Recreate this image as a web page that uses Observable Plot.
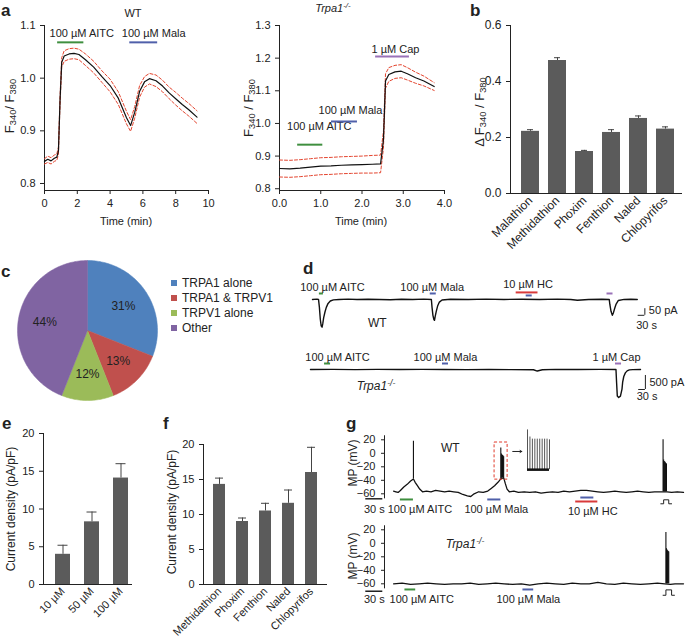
<!DOCTYPE html>
<html><head><meta charset="utf-8">
<script src="https://cdn.jsdelivr.net/npm/d3@7"></script>
<script src="https://cdn.jsdelivr.net/npm/@observablehq/plot@0.6"></script>
<style>
body{margin:0;background:#fff;}
#fig{position:relative;width:685px;height:641px;background:#fff;overflow:hidden;font-family:"Liberation Sans",Arial,Helvetica,sans-serif;color:#222;}
.lbl{position:absolute;white-space:nowrap;line-height:1;}
.lbl sub{font-size:72%;vertical-align:-0.25em;line-height:0;}
.lbl sup{font-size:72%;vertical-align:0.45em;line-height:0;}
.sq{position:absolute;width:6px;height:6px;}
</style></head><body><div id="fig"></div>
<script>
// ---------------- DATA ----------------
// Panel a (WT): mean F340/F380 and SEM over time (min)
const wtTime = [0,0.2,0.4,0.6,0.75,0.85,0.95,1.05,1.2,1.5,1.8,2.1,2.5,3.0,3.5,4.0,4.5,5.0,5.25,5.5,5.8,6.1,6.4,6.8,7.2,7.6,8.0,8.4,8.8,9.3];
const wtMean = [0.842,0.846,0.843,0.848,0.850,0.862,0.960,1.030,1.042,1.046,1.047,1.045,1.035,1.021,1.003,0.986,0.962,0.925,0.910,0.935,0.975,0.993,0.999,0.995,0.985,0.972,0.961,0.950,0.940,0.926];
const wtSem  = [0.005,0.006,0.006,0.006,0.006,0.007,0.008,0.009,0.010,0.010,0.010,0.010,0.011,0.011,0.011,0.012,0.012,0.012,0.011,0.011,0.011,0.010,0.010,0.011,0.011,0.011,0.012,0.012,0.012,0.012];
const wtStimLabel = ["100 µM AITC","100 µM Mala"];
const wtStimDrug  = ["AITC","Mala"];
const wtStimStart = [0.8, 5.2];
const wtStimEnd   = [2.4, 6.9];
// Panel a (Trpa1-/-)
const koTime = [0,0.25,0.5,0.75,1.0,1.25,1.5,1.75,2.0,2.25,2.45,2.52,2.57,2.65,2.8,2.95,3.1,3.3,3.5,3.75];
const koMean = [0.862,0.861,0.863,0.866,0.869,0.870,0.872,0.873,0.874,0.875,0.876,0.950,1.130,1.150,1.158,1.160,1.152,1.140,1.130,1.113];
const koSem  = [0.026,0.026,0.026,0.026,0.026,0.026,0.026,0.026,0.026,0.027,0.027,0.026,0.022,0.021,0.020,0.020,0.019,0.017,0.015,0.012];
const koStimLabel = ["100 µM AITC","100 µM Mala","1 µM Cap"];
const koStimDrug  = ["AITC","Mala","Cap"];
const koStimStart = [0.44, 1.26, 2.33];
const koStimEnd   = [1.05, 1.89, 3.15];
// Panel b
const bCats = ["Malathion","Methidathion","Phoxim","Fenthion","Naled","Chlopyrifos"];
const bVals = [0.222,0.475,0.150,0.218,0.268,0.230];
const bErrs = [0.006,0.010,0.004,0.010,0.009,0.008];
// Panel c
const pieLabels = ["TRPA1 alone","TRPA1 & TRPV1","TRPV1 alone","Other"];
const pieValues = [31,13,12,44];
// Panel d (WT current trace: time s, current pA)
const dWtT = [0,20,27,31,35,39,43,46,50,56,62,70,80,94,120,160,200,250,300,350,400,450,500,534,537,541,545,548,551,556,562,570,582,620,700,780,860,940,1020,1100,1160,1190,1240,1300,1333,1336,1341,1347,1352,1358,1364,1374,1400,1430,1459];
const dWtI = [0,2,0,-60,-150,-200,-210,-185,-140,-95,-60,-30,-12,-3,0,2,-1,1,0,-2,1,0,2,0,-60,-120,-150,-158,-130,-90,-50,-20,-4,1,-1,2,0,1,-1,2,-1,-6,0,1,0,-40,-90,-120,-100,-65,-35,-8,0,1,0];
const dWtStimLabel = ["100 µM AITC","100 µM Mala","10 µM HC",""];
const dWtStimDrug  = ["AITC","Mala","HC","Cap"];
const dWtStimStart = [31,529,915,1323];
const dWtStimEnd   = [49,556,1013,1350];
const dHcMalaStart = 960, dHcMalaEnd = 987;
// Panel d (Trpa1-/-)
const dKoT = [0,100,200,300,400,500,600,700,800,900,1000,1017,1040,1100,1200,1300,1370,1373,1376,1382,1390,1397,1400,1405,1412,1420,1430,1445,1480];
const dKoI = [0,5,-3,4,-2,3,0,-5,2,-4,-10,-55,-10,3,-2,4,0,-500,-950,-1000,-950,-700,-450,-250,-120,-50,-15,-3,0];
const dKoStimLabel = ["100 µM AITC","100 µM Mala","1 µM Cap"];
const dKoStimDrug  = ["AITC","Mala","Cap"];
const dKoStimStart = [63,592,1368];
const dKoStimEnd   = [90,619,1395];
const dScaleWt = {sec:30, pA:50};
const dScaleKo = {sec:30, pA:500};
// Panel e
const eCats = ["10 µM","50 µM","100 µM"];
const eVals = [4.0,8.3,14.1];
const eErrs = [1.2,1.3,1.9];
// Panel f
const fCats = ["Methidathion","Phoxim","Fenthion","Naled","Chlopyrifos"];
const fVals = [14.3,9.0,10.5,11.6,16.0];
const fErrs = [0.9,0.5,1.1,1.9,3.6];
// Panel g (WT membrane potential: time s, mV)
const g1T = [0,4,8,12,18,24,30,35,38,42,46,51,58,66,74,82,90,98,106,114,122,130,136,142,150,158,166,172,178,184,189,194,197,200,204,212,220,230,240,250,260,270,280,290,300,310,320,330,340,350,360,370,380,390,400,410,420,430,440,450,460,468,474,482,490,500,511];
const g1V = [-56,-57,-58,-55,-50,-46,-41,-38,-43,-48,-53,-57,-56,-57,-55,-56,-57,-56,-57,-58,-61,-63,-64,-60,-57,-58,-56,-52,-48,-43,-38,-36,-45,-53,-57,-56,-58,-57,-58,-57,-59,-58,-57,-58,-56,-57,-56,-55,-55,-56,-57,-58,-57,-56,-57,-58,-57,-56,-57,-58,-57,-57,-57,-57,-58,-57,-58];
const g1SpikeT    = [35,189,190,191,192,193,194,475,476,477,478,479,480,481];
const g1SpikeBase = [-38,-38,-37,-37,-36,-36,-36,-57,-57,-57,-57,-57,-57,-57];
const g1SpikePeak = [18,8,-1,-3,-3,-4,-5,20,-10,-12,-13,-14,-15,-16];
const g1StimLabel = ["100 µM AITC","100 µM Mala","10 µM HC"];
const g1StimDrug  = ["AITC","Mala","HC"];
const g1StimStart = [12,166,321];
const g1StimEnd   = [35,189,360];
const gHcMalaStart = 330, gHcMalaEnd = 353;
const g1Pulse = [476,485];
const insetT = [0,1,2,3,4,5,6,7,8,9];
const insetPeak = [18,8,5,5,5,5,5,5,5,4];
const insetBase = -38;
// Panel g (Trpa1-/-)
const g2T = [0,15,30,45,60,75,90,105,120,135,150,165,180,195,210,225,240,255,270,285,300,315,330,345,360,375,390,405,420,435,450,465,478,488,496,511];
const g2V = [-60,-59,-61,-60,-59,-60,-61,-60,-60,-59,-61,-60,-59,-60,-61,-60,-62,-60,-59,-60,-61,-59,-60,-60,-58,-60,-61,-59,-60,-61,-60,-59,-60,-61,-60,-60];
const g2SpikeT    = [480,481,482,483,484,485];
const g2SpikeBase = [-60,-60,-60,-60,-60,-60];
const g2SpikePeak = [16,-8,-10,-11,-12,-13];
const g2StimLabel = ["100 µM AITC","100 µM Mala"];
const g2StimDrug  = ["AITC","Mala"];
const g2StimStart = [20,228];
const g2StimEnd   = [39,247];
const g2Pulse = [480,490];
const gScaleSec = 30;

// ---------------- STYLE ----------------
const FONT = '"Liberation Sans", Arial, Helvetica, sans-serif';
const DRUG_COLOR = {AITC:"#3f8f3f", Mala:"#5060aa", HC:"#d83a3a", Cap:"#9a72b8"};
const PIE_COLORS = ["#4f81bd","#c0504d","#9bbb59","#8064a2"];
const BAND_RED = "#e4452f";
const BAR_GRAY = "#5b5b5b";
const baseStyle = {background:"transparent", overflow:"visible", fontFamily:FONT, fontSize:"11px", color:"#222", maxWidth:"none"};
const fig = document.getElementById("fig");
function put(node, left, top){
  const d = document.createElement("div");
  d.style.position="absolute"; d.style.left=left+"px"; d.style.top=top+"px";
  d.appendChild(node); fig.appendChild(d);
}
function label(html, x, y, o={}){
  const d = document.createElement("div"); d.className="lbl"; d.innerHTML=html;
  d.style.fontSize=(o.size??11)+"px";
  if(o.bold) d.style.fontWeight="bold";
  if(o.italic) d.style.fontStyle="italic";
  d.style.left=x+"px"; d.style.top=y+"px";
  const tx = o.anchor==="start"?"0":o.anchor==="end"?"-100%":"-50%";
  d.style.transform=`translate(${tx},-50%)`+(o.rotate?` rotate(${o.rotate}deg)`:"");
  fig.appendChild(d);
}
function stimMarks(labels, drugs, starts, ends, yBar, yText, dxs, fs){
  const m=[];
  labels.forEach((lab,i)=>{
    m.push(Plot.ruleY([yBar],{x1:starts[i], x2:ends[i], stroke:DRUG_COLOR[drugs[i]], strokeWidth:2}));
    if(lab) m.push(Plot.text([lab],{x:(starts[i]+ends[i])/2, y:yText, text:d=>d, dx:dxs[i]||0, fill:"#222", fontSize:fs||11}));
  });
  return m;
}
const idx = a => a.map((_,i)=>i);

// ---------------- PANEL a (WT) ----------------
const wtRows = wtTime.map((t,i)=>({t, m:wtMean[i], lo:wtMean[i]-wtSem[i], hi:wtMean[i]+wtSem[i]}));
put(Plot.plot({
  width:225, height:230, marginLeft:44, marginRight:17, marginTop:25, marginBottom:40,
  style:baseStyle,
  x:{domain:[0,10], ticks:[0,2,4,6,8,10], tickSize:4, label:null, line:true},
  y:{domain:[0.7867,1.1], ticks:[0.8,0.9,1.0,1.1], tickFormat:d3.format(".1f"), tickSize:4, label:null, line:true},
  marks:[
    Plot.line(wtRows,{x:"t",y:"hi",stroke:BAND_RED,strokeDasharray:"3,2",strokeWidth:1}),
    Plot.line(wtRows,{x:"t",y:"lo",stroke:BAND_RED,strokeDasharray:"3,2",strokeWidth:1}),
    Plot.line(wtRows,{x:"t",y:"m",stroke:"#111",strokeWidth:1.2}),
    ...stimMarks(wtStimLabel, wtStimDrug, wtStimStart, wtStimEnd, 1.068, 1.085, [11,10])
  ]
}),0,0);
label("a",1,10,{size:17,bold:true,anchor:"start"});
label("WT",133,13,{size:11});
label("F<sub>340</sub>/ F<sub>380</sub>",9,106,{size:13,rotate:-90});
label("Time (min)",126,221,{size:11});

// ---------------- PANEL a (Trpa1-/-) ----------------
const koRows = koTime.map((t,i)=>({t, m:koMean[i], lo:koMean[i]-koSem[i], hi:koMean[i]+koSem[i]}));
const koBarY = [0.935,1.006,1.205], koTextY = [0.99,1.04,1.226], koDx = [9,6,3];
put(Plot.plot({
  width:220, height:230, marginLeft:39, marginRight:16, marginTop:25, marginBottom:40,
  style:baseStyle,
  x:{domain:[0,4], ticks:[0,1,2,3,4], tickSize:4, label:null, line:true},
  y:{domain:[0.7946,1.3], ticks:[0.8,0.9,1.0,1.1,1.2,1.3], tickFormat:d3.format(".1f"), tickSize:4, label:null, line:true},
  marks:[
    Plot.line(koRows,{x:"t",y:"hi",stroke:BAND_RED,strokeDasharray:"3,2",strokeWidth:1}),
    Plot.line(koRows,{x:"t",y:"lo",stroke:BAND_RED,strokeDasharray:"3,2",strokeWidth:1}),
    Plot.line(koRows,{x:"t",y:"m",stroke:"#111",strokeWidth:1.2}),
    ...koStimLabel.flatMap((lab,i)=>[
      Plot.ruleY([koBarY[i]],{x1:koStimStart[i],x2:koStimEnd[i],stroke:DRUG_COLOR[koStimDrug[i]],strokeWidth:2}),
      Plot.text([lab],{x:(koStimStart[i]+koStimEnd[i])/2,y:koTextY[i],text:d=>d,dx:koDx[i],fill:"#222",fontSize:11})
    ])
  ]
}),240,0);
label("Trpa1<sup>-/-</sup>",333,8,{size:11,italic:true});
label("F<sub>340</sub> / F<sub>380</sub>",248,108,{size:13,rotate:-90});
label("Time (min)",361,221,{size:11});

// ---------------- PANEL b ----------------
const bRows = bCats.map((c,i)=>({c, v:bVals[i], e:bErrs[i]}));
put(Plot.plot({
  width:215, height:260, marginLeft:40, marginRight:3, marginTop:25, marginBottom:67,
  style:{...baseStyle, fontSize:"12px"},
  x:{type:"band", domain:bCats, range:[48,207], paddingInner:0.32, paddingOuter:0, align:0.5, tickSize:0, tickPadding:5, tickRotate:-45, label:null},
  y:{domain:[0,0.6], ticks:[0,0.2,0.4,0.6], tickFormat:d3.format(".1f"), tickSize:4, label:null, line:true},
  marks:[
    Plot.barY(bRows,{x:"c",y:"v",fill:BAR_GRAY}),
    Plot.ruleX(bRows,{x:"c",y1:"v",y2:d=>d.v+d.e,stroke:"#444",strokeWidth:1}),
    Plot.tickY(bRows,{x:"c",y:d=>d.v+d.e,stroke:"#444",strokeWidth:1,insetLeft:6,insetRight:6}),
    Plot.ruleY([0],{stroke:"#222"})
  ]
}),470,0);
label("b",470,10,{size:17,bold:true,anchor:"start"});
label("Δ F<sub>340</sub> / F<sub>380</sub>",479,112,{size:13,rotate:-90});

// ---------------- PANEL c (pie) ----------------
const pieArcs = d3.pie().sort(null)(pieValues);
const piePts = pieArcs.flatMap((a,i)=>{
  const n = Math.max(2, Math.ceil((a.endAngle-a.startAngle)/0.02));
  const pts=[{k:pieLabels[i],x:0,y:0}];
  for(let j=0;j<=n;j++){const ang=a.startAngle+(a.endAngle-a.startAngle)*j/n; pts.push({k:pieLabels[i],x:Math.sin(ang),y:Math.cos(ang)});}
  pts.push({k:pieLabels[i],x:0,y:0});
  return pts;
});
const pieText = pieArcs.map((a,i)=>{const m=(a.startAngle+a.endAngle)/2; return {x:0.62*Math.sin(m), y:0.62*Math.cos(m), t:pieValues[i]+"%"};});
put(Plot.plot({
  width:140, height:140, marginLeft:0, marginRight:0, marginTop:0, marginBottom:0,
  style:baseStyle,
  x:{domain:[-1,1], axis:null}, y:{domain:[-1,1], axis:null},
  color:{domain:pieLabels, range:PIE_COLORS},
  marks:[
    Plot.line(piePts,{x:"x",y:"y",z:"k",fill:"k",stroke:"k",strokeWidth:0.5}),
    Plot.text(pieText,{x:"x",y:"y",text:"t",fill:"#222",fontSize:12})
  ]
}),17,260);
label("c",1,271,{size:17,bold:true,anchor:"start"});
pieLabels.forEach((l,i)=>{
  const s=document.createElement("div"); s.className="sq"; s.style.left="171px"; s.style.top=(280+15*i)+"px"; s.style.background=PIE_COLORS[i]; fig.appendChild(s);
  label(l,182,283+15*i,{size:12,anchor:"start"});
});

// ---------------- PANEL d ----------------
const dWtRows = dWtT.map((t,i)=>({t, i:dWtI[i]}));
const dScW = {x:1493, y:-120};
put(Plot.plot({
  width:385, height:70, marginLeft:12, marginRight:48, marginTop:21, marginBottom:8,
  style:baseStyle,
  x:{domain:[0,1460], axis:null}, y:{domain:[-250,60], axis:null},
  marks:[
    Plot.line(dWtRows,{x:"t",y:"i",stroke:"#111",strokeWidth:1.4}),
    ...stimMarks(dWtStimLabel.slice(0,2), dWtStimDrug.slice(0,2), dWtStimStart.slice(0,2), dWtStimEnd.slice(0,2), 45, 90, [11,-1]),
    Plot.ruleY([53],{x1:dWtStimStart[2],x2:dWtStimEnd[2],stroke:DRUG_COLOR.HC,strokeWidth:2}),
    Plot.ruleY([30],{x1:dHcMalaStart,x2:dHcMalaEnd,stroke:DRUG_COLOR.Mala,strokeWidth:2}),
    Plot.text([dWtStimLabel[2]],{x:(dWtStimStart[2]+dWtStimEnd[2])/2,y:113,text:d=>d,dx:1,fill:"#222",fontSize:11}),
    Plot.ruleY([45],{x1:dWtStimStart[3],x2:dWtStimEnd[3],stroke:DRUG_COLOR.Cap,strokeWidth:2}),
    Plot.text(["WT"],{x:291,y:-180,text:d=>d,fill:"#222",fontSize:12}),
    Plot.ruleX([dScW.x],{y1:dScW.y,y2:dScW.y+dScaleWt.pA,stroke:"#222"}),
    Plot.ruleY([dScW.y],{x1:dScW.x-dScaleWt.sec,x2:dScW.x,stroke:"#222"}),
    Plot.text([dScaleWt.pA+" pA"],{x:dScW.x,y:-85,text:d=>d,dx:4,textAnchor:"start",fill:"#222",fontSize:11}),
    Plot.text([dScaleWt.sec+" s"],{x:dScW.x-dScaleWt.sec,y:-195,text:d=>d,dx:-2,textAnchor:"start",fill:"#222",fontSize:11})
  ]
}),300,270);
label("d",303,268,{size:17,bold:true,anchor:"start"});

const dKoRows = dKoT.map((t,i)=>({t, i:dKoI[i]}));
const dScK = {x:1502, y:-714};
put(Plot.plot({
  width:385, height:60, marginLeft:10, marginRight:45, marginTop:17, marginBottom:6.6,
  style:baseStyle,
  x:{domain:[0,1480], axis:null}, y:{domain:[-1050,250], axis:null},
  marks:[
    Plot.line(dKoRows,{x:"t",y:"i",stroke:"#111",strokeWidth:1.4}),
    ...stimMarks(dKoStimLabel, dKoStimDrug, dKoStimStart, dKoStimEnd, 214, 430, [10,0,-2]),
    Plot.ruleX([dScK.x],{y1:dScK.y,y2:dScK.y+dScaleKo.pA,stroke:"#222"}),
    Plot.ruleY([dScK.y],{x1:dScK.x-dScaleKo.sec,x2:dScK.x,stroke:"#222"}),
    Plot.text([dScaleKo.pA+" pA"],{x:dScK.x,y:-464,text:d=>d,dx:4,textAnchor:"start",fill:"#222",fontSize:11}),
    Plot.text([dScaleKo.sec+" s"],{x:dScK.x-dScaleKo.sec,y:-964,text:d=>d,dx:-2,textAnchor:"start",fill:"#222",fontSize:11})
  ]
}),300,345);
label("Trpa1<sup>-/-</sup>",376,386,{size:12,italic:true});

// ---------------- PANEL e ----------------
const eRows = eCats.map((c,i)=>({c, v:eVals[i], e:eErrs[i]}));
put(Plot.plot({
  width:140, height:240, marginLeft:43, marginRight:8, marginTop:33, marginBottom:56,
  style:baseStyle,
  x:{type:"band", domain:eCats, range:[54.5,128.5], paddingInner:0.49, paddingOuter:0, tickSize:0, tickPadding:5, tickRotate:-45, label:null},
  y:{domain:[0,20], ticks:[0,5,10,15,20], tickSize:4, label:null, line:true},
  marks:[
    Plot.barY(eRows,{x:"c",y:"v",fill:BAR_GRAY}),
    Plot.ruleX(eRows,{x:"c",y1:"v",y2:d=>d.v+d.e,stroke:"#444"}),
    Plot.tickY(eRows,{x:"c",y:d=>d.v+d.e,stroke:"#444",insetLeft:2.5,insetRight:2.5}),
    Plot.ruleY([0],{stroke:"#222"})
  ]
}),0,400);
label("e",2,423,{size:17,bold:true,anchor:"start"});
label("Current density (pA/pF)",11,509,{size:12,rotate:-90});

// ---------------- PANEL f ----------------
const fRows = fCats.map((c,i)=>({c, v:fVals[i], e:fErrs[i]}));
put(Plot.plot({
  width:175, height:240, marginLeft:43, marginRight:8, marginTop:44, marginBottom:56,
  style:baseStyle,
  x:{type:"band", domain:fCats, range:[51,158], paddingInner:0.495, paddingOuter:0, tickSize:0, tickPadding:5, tickRotate:-45, label:null},
  y:{domain:[0,20], ticks:[0,5,10,15,20], tickSize:4, label:null, line:true},
  marks:[
    Plot.barY(fRows,{x:"c",y:"v",fill:BAR_GRAY}),
    Plot.ruleX(fRows,{x:"c",y1:"v",y2:d=>d.v+d.e,stroke:"#444"}),
    Plot.tickY(fRows,{x:"c",y:d=>d.v+d.e,stroke:"#444",insetLeft:2,insetRight:2}),
    Plot.ruleY([0],{stroke:"#222"})
  ]
}),160,400);
label("f",163,423,{size:17,bold:true,anchor:"start"});
label("Current density (pA/pF)",172,512,{size:12,rotate:-90});

// ---------------- PANEL g ----------------
function pulseLine(p, lo, hi){
  return Plot.line([[p[0]-5,lo],[p[0],lo],[p[0],hi],[p[1],hi],[p[1],lo],[p[1]+5,lo]],{x:d=>d[0],y:d=>d[1],stroke:"#222",strokeWidth:1});
}
const gAxes = {
  width:345, height:110, marginLeft:44, marginRight:2, marginTop:15.25, marginBottom:32.65,
  style:baseStyle,
  x:{domain:[-16,511], axis:null},
  y:{domain:[-66,26], ticks:[20,0,-20,-40,-60], tickSize:3, label:null, line:true}
};
const g1Rows = g1T.map((t,i)=>({t, v:g1V[i]}));
put(Plot.plot({...gAxes,
  marks:[
    Plot.line(g1Rows,{x:"t",y:"v",stroke:"#111",strokeWidth:1.3}),
    Plot.ruleX(idx(g1SpikeT),{x:i=>g1SpikeT[i],y1:i=>g1SpikeBase[i],y2:i=>g1SpikePeak[i],stroke:"#111",strokeWidth:1.1}),
    Plot.rect([0],{x1:178,x2:201,y1:-39,y2:16,fill:"none",stroke:"#e03a2a",strokeDasharray:"3,2",strokeWidth:1}),
    Plot.arrow([0],{x1:210,x2:226,y1:2.7,y2:2.7,stroke:"#222",strokeWidth:1,headLength:3}),
    Plot.text(["WT"],{x:100,y:7,text:d=>d,fill:"#222",fontSize:12}),
    ...stimMarks(g1StimLabel.slice(0,2), g1StimDrug.slice(0,2), g1StimStart.slice(0,2), g1StimEnd.slice(0,2), -68.4, -83, [13,2]),
    Plot.ruleY([-71.4],{x1:g1StimStart[2],x2:g1StimEnd[2],stroke:DRUG_COLOR.HC,strokeWidth:2}),
    Plot.ruleY([-65.5],{x1:gHcMalaStart,x2:gHcMalaEnd,stroke:DRUG_COLOR.Mala,strokeWidth:2}),
    Plot.text([g1StimLabel[2]],{x:(g1StimStart[2]+g1StimEnd[2])/2,y:-85.5,text:d=>d,dx:6,fill:"#222",fontSize:11}),
    Plot.ruleY([-67.4],{x1:-49,x2:-49+gScaleSec,stroke:"#222",strokeWidth:1.5}),
    Plot.text([gScaleSec+" s"],{x:-49+gScaleSec/2,y:-83,text:d=>d,fill:"#222",fontSize:11}),
    pulseLine(g1Pulse,-74.8,-68.9)
  ]
}),340,420);
put(Plot.plot({
  width:24, height:44, marginLeft:1, marginRight:1, marginTop:0, marginBottom:0,
  style:baseStyle,
  x:{domain:[0,9], axis:null}, y:{domain:[-42,20], axis:null},
  marks:[
    Plot.ruleX(insetT,{x:d=>d,y1:insetBase,y2:(d,i)=>insetPeak[i],stroke:"#555",strokeWidth:1}),
    Plot.ruleY([insetBase],{x1:0,x2:9,stroke:"#111",strokeWidth:2.5})
  ]
}),526,428);
label("g",346,423,{size:17,bold:true,anchor:"start"});
label("MP (mV)",353,463,{size:12,rotate:-90});

const g2Rows = g2T.map((t,i)=>({t, v:g2V[i]}));
put(Plot.plot({...gAxes,
  marks:[
    Plot.line(g2Rows,{x:"t",y:"v",stroke:"#111",strokeWidth:1.3}),
    Plot.ruleX(idx(g2SpikeT),{x:i=>g2SpikeT[i],y1:i=>g2SpikeBase[i],y2:i=>g2SpikePeak[i],stroke:"#111",strokeWidth:1.1}),
    ...stimMarks(g2StimLabel, g2StimDrug, g2StimStart, g2StimEnd, -68.4, -83.3, [11.5,0]),
    Plot.ruleY([-71],{x1:-49,x2:-49+gScaleSec,stroke:"#222",strokeWidth:1.5}),
    Plot.text([gScaleSec+" s"],{x:-49+gScaleSec/2,y:-83.3,text:d=>d,fill:"#222",fontSize:11}),
    pulseLine(g2Pulse,-77,-69)
  ]
}),340,510);
label("Trpa1<sup>-/-</sup>",465,544,{size:12,italic:true});
label("MP (mV)",353,556,{size:12,rotate:-90});
</script></body></html>
